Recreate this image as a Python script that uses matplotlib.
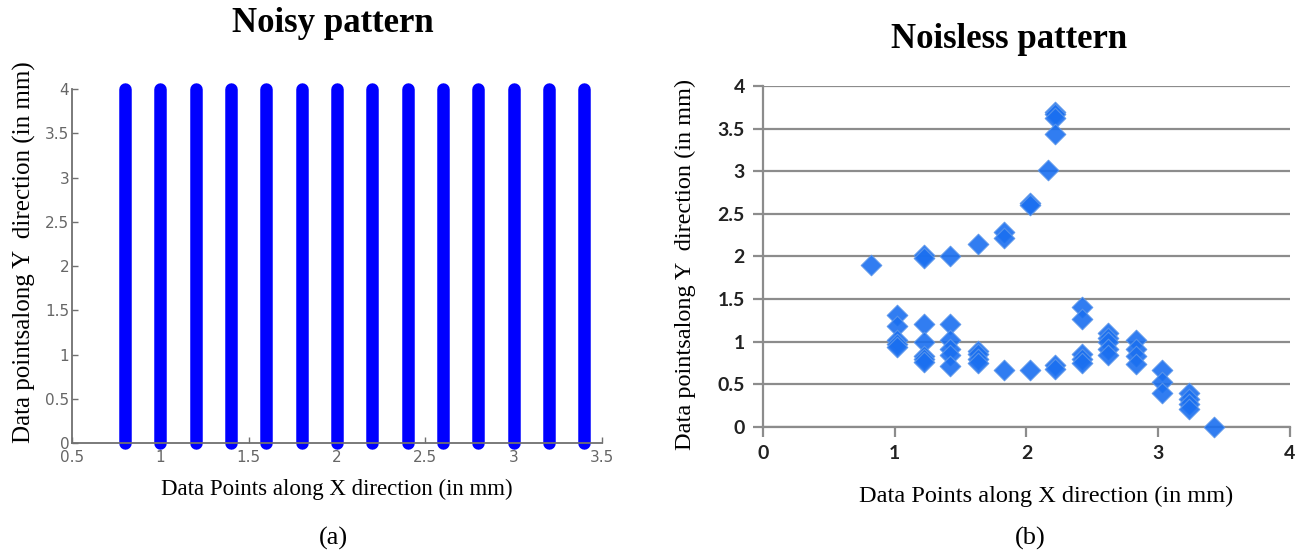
import numpy as np
import matplotlib
matplotlib.use('Agg')
import matplotlib.pyplot as plt

# (a) noisy pattern: vertical columns of points from y=0 to y=4
noisy_x = [0.8, 1.0, 1.2, 1.4, 1.6, 1.8, 2.0, 2.2, 2.4, 2.6, 2.8, 3.0, 3.2, 3.4]
noisy_ymin = 0.0
noisy_ymax = 4.0

# (b) noiseless pattern
clean_x = [0.82,
           1.02, 1.02, 1.02, 1.02, 1.02,
           1.22, 1.22, 1.22, 1.22, 1.22, 1.22, 1.22,
           1.42, 1.42, 1.42, 1.42, 1.42, 1.42,
           1.63, 1.63, 1.63, 1.63, 1.63,
           1.83, 1.83, 1.83,
           2.03, 2.03, 2.03,
           2.16,
           2.22, 2.22, 2.22, 2.22, 2.22, 2.22,
           2.42, 2.42, 2.42, 2.42, 2.42,
           2.62, 2.62, 2.62, 2.62, 2.62,
           2.83, 2.83, 2.83, 2.83,
           3.03, 3.03, 3.03,
           3.23, 3.23, 3.23, 3.23,
           3.42]
clean_y = [1.90,
           1.31, 1.18, 1.02, 0.97, 0.93,
           2.01, 1.98, 1.20, 1.00, 0.83, 0.79, 0.76,
           2.00, 1.20, 1.02, 0.91, 0.84, 0.71,
           2.14, 0.89, 0.85, 0.80, 0.75,
           2.29, 2.21, 0.66,
           2.63, 2.60, 0.66,
           3.01,
           3.70, 3.67, 3.63, 3.44, 0.72, 0.68,
           1.41, 1.26, 0.85, 0.80, 0.75,
           1.10, 1.04, 0.99, 0.91, 0.84,
           1.02, 0.91, 0.83, 0.74,
           0.66, 0.53, 0.40,
           0.39, 0.32, 0.27, 0.21,
           0.00]

serif = 'Liberation Serif'
ylab = 'Data pointsalong Y  direction (in mm)'
xlab = 'Data Points along X direction (in mm)'

fig = plt.figure(figsize=(13, 5.56), dpi=100)

# ---- left panel ----
ax1 = fig.add_axes([0.0554, 0.2032, 0.4077, 0.6367])
for x in noisy_x:
    ax1.plot([x, x], [noisy_ymin, noisy_ymax], color='#0000ff', lw=9,
             solid_capstyle='round', clip_on=False)
ax1.set_xlim(0.5, 3.5)
ax1.set_ylim(0, 4)
ax1.set_xticks(np.arange(0.5, 3.51, 0.5))
ax1.set_yticks(np.arange(0, 4.01, 0.5))
ax1.set_xticklabels(['0.5', '1', '1.5', '2', '2.5', '3', '3.5'])
ax1.set_yticklabels(['0', '0.5', '1', '1.5', '2', '2.5', '3', '3.5', '4'])
for s in ['top', 'right']:
    ax1.spines[s].set_visible(False)
for s in ['left', 'bottom']:
    ax1.spines[s].set_color('#707070')
    ax1.spines[s].set_linewidth(1.3)
ax1.tick_params(axis='y', direction='in', length=4, width=1, colors='#707070',
                labelsize=11, labelcolor='#666666', pad=2)
ax1.tick_params(axis='x', direction='in', length=4, width=1, colors='#707070',
                labelsize=11, labelcolor='#666666', pad=5)
ax1.set_xlabel(xlab, family=serif, fontsize=16.5, labelpad=10)
ax1.set_ylabel(ylab, family=serif, fontsize=18)
ax1.yaxis.set_label_coords(-0.068, 0.54)
fig.text(333 / 1300, 1 - 23 / 556, 'Noisy pattern', family=serif, fontsize=25,
         fontweight='bold', ha='center', va='center')

# ---- right panel ----
ax2 = fig.add_axes([0.5869, 0.2326, 0.4054, 0.6127])
ax2.set_axisbelow(True)
ax2.grid(axis='y', color='#8c8c8c', lw=1.6)
ax2.scatter(clean_x, clean_y, marker='D', s=110, color='#1a6ff0',
            edgecolors='#5b96ea', linewidths=0.8, alpha=0.9, zorder=3, clip_on=False)
ax2.set_xlim(0, 4)
ax2.set_ylim(0, 4)
ax2.set_xticks([0, 1, 2, 3, 4])
ax2.set_yticks(np.arange(0, 4.01, 0.5))
ax2.set_yticklabels(['0', '0.5', '1', '1.5', '2', '2.5', '3', '3.5', '4'])
for s in ['top', 'right']:
    ax2.spines[s].set_visible(False)
for s in ['left', 'bottom']:
    ax2.spines[s].set_color('#8c8c8c')
    ax2.spines[s].set_linewidth(1.6)
ax2.tick_params(direction='out', length=7, width=1.6, colors='#8c8c8c',
                labelsize=14, labelcolor='#222222', pad=6)
for lbl in ax2.get_xticklabels() + ax2.get_yticklabels():
    lbl.set_family('Lato')
    lbl.set_fontweight('bold')
ax2.set_xlabel(xlab, family=serif, fontsize=17.5)
ax2.xaxis.set_label_coords(0.537, -0.175)
ax2.set_ylabel(ylab, family=serif, fontsize=17.5)
ax2.yaxis.set_label_coords(-0.127, 0.477)
fig.text(1009 / 1300, 1 - 40 / 556, 'Noisless pattern', family=serif, fontsize=25,
         fontweight='bold', ha='center', va='center')

# captions
fig.text(333 / 1300, 1 - 538 / 556, '(a)', family=serif, fontsize=19,
         ha='center', va='center')
fig.text(1030 / 1300, 1 - 538 / 556, '(b)', family=serif, fontsize=19,
         ha='center', va='center')

fig.savefig('out.png', dpi=100)
